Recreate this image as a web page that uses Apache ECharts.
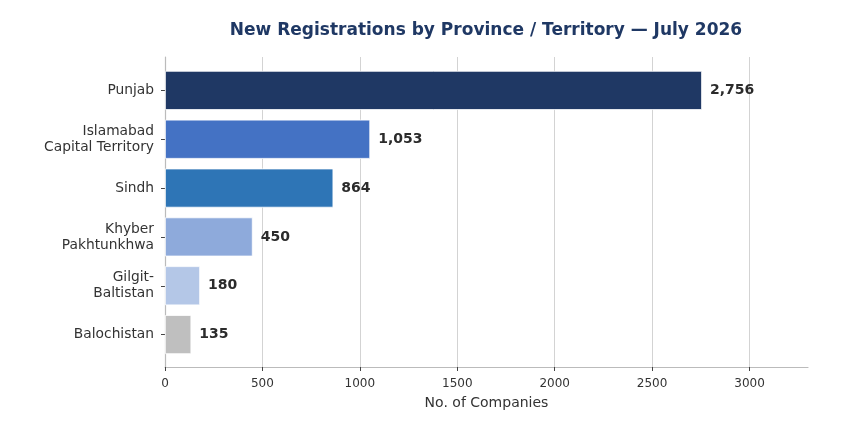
<!DOCTYPE html>
<html>
<head>
<meta charset="utf-8">
<script src="https://cdn.jsdelivr.net/npm/echarts@6/dist/echarts.min.js"></script>
<style>
  html, body { margin: 0; padding: 0; background: #fff; }
  #chart { width: 865px; height: 432px; }
</style>
</head>
<body>
<div id="chart"></div>
<script>
const provinces = ['Punjab', 'Islamabad\nCapital Territory', 'Sindh', 'Khyber\nPakhtunkhwa', 'Gilgit-\nBaltistan', 'Balochistan']
const companies = [2756, 1053, 864, 450, 180, 135]
const barColors = ['#1f3864', '#4472c4', '#2e75b6', '#8eaadb', '#b4c7e7', '#bfbfbf']
const xTicks = [0, 500, 1000, 1500, 2000, 2500, 3000]

const FONT = '"DejaVu Sans", sans-serif'
const xMax = 3300

const myChart = echarts.init(document.getElementById('chart'))
// 两个网格：0 放柱子，1 只画边框、刻度和网格线
myChart.setOption({
  animation: false,
  textStyle: { fontFamily: FONT },
  title: {
    text: 'New Registrations by Province / Territory — July 2026',
    left: 481,
    top: 17,
    textAlign: 'center',
    textStyle: { fontFamily: FONT, fontSize: 17, fontWeight: 'bold', color: '#1f3864' }
  },
  grid: [
    { left: 165, right: 57, top: 66, height: 293 },
    { left: 165, right: 57, top: 57, bottom: 65 }
  ],
  xAxis: [
    { gridIndex: 0, type: 'value', min: 0, max: xMax, show: false },
    {
      gridIndex: 1,
      type: 'value',
      min: 0,
      max: xMax,
      name: 'No. of Companies',
      nameLocation: 'middle',
      nameGap: 29,
      nameTextStyle: { fontFamily: FONT, fontSize: 14, color: '#333' },
      axisLine: { show: true, lineStyle: { color: '#bbbbbb', width: 1.2 } },
      axisTick: { show: true, length: 4, lineStyle: { color: '#444' }, customValues: xTicks },
      axisLabel: { fontFamily: FONT, fontSize: 12, color: '#333', margin: 11,
        customValues: xTicks, formatter: v => String(v) },
      splitLine: { show: true, lineStyle: { color: '#d3d3d3', width: 1 } }
    }
  ],
  yAxis: [
    {
      gridIndex: 0,
      type: 'category',
      data: provinces,
      inverse: true,
      axisLine: { show: false },
      axisTick: { show: true, alignWithLabel: true, length: 4, lineStyle: { color: '#444' } },
      axisLabel: { fontFamily: FONT, fontSize: 13.8, color: '#333', margin: 11, lineHeight: 16 },
      splitLine: { show: false }
    },
    {
      gridIndex: 1,
      type: 'value',
      min: 0,
      max: 1,
      axisLine: { show: true, lineStyle: { color: '#bbbbbb', width: 1.2 } },
      axisTick: { show: false },
      axisLabel: { show: false },
      splitLine: { show: false }
    }
  ],
  series: [
    {
      type: 'bar',
      xAxisIndex: 0,
      yAxisIndex: 0,
      barWidth: '80%',
      data: companies.map((v, i) => ({
        value: v,
        itemStyle: { color: barColors[i], borderColor: '#ffffff', borderWidth: 0.8 }
      })),
      label: {
        show: true,
        position: 'right',
        distance: 8,
        fontFamily: FONT,
        fontSize: 14,
        fontWeight: 'bold',
        color: '#2b2b2b',
        formatter: p => p.value.toLocaleString('en-US')
      }
    }
  ]
})
</script>
</body>
</html>
